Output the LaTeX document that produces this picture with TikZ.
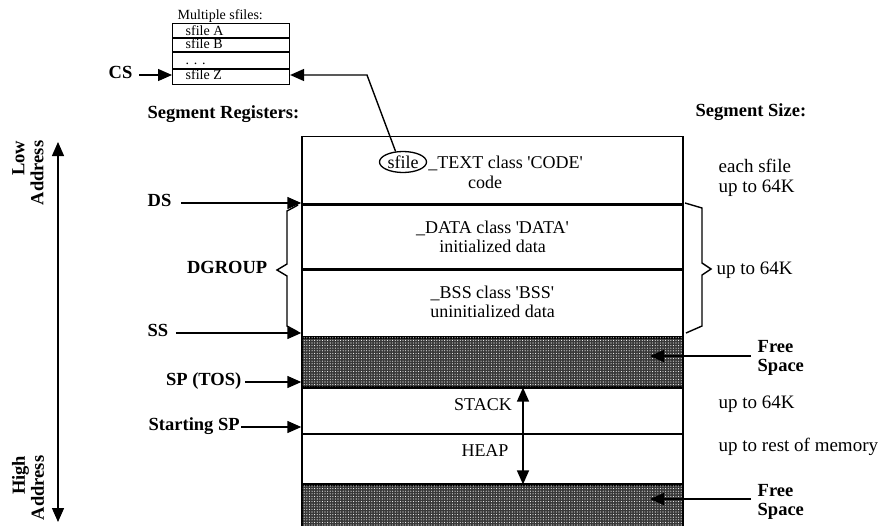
\documentclass[tikz,border=0pt]{standalone}
\usepackage{fontspec}
\setmainfont{Liberation Serif}
\usetikzlibrary{arrows.meta,shapes.geometric,patterns.meta}
\begin{document}
\begin{tikzpicture}[x=1pt,y=-1pt,
  line width=1.4pt,
  arr/.style={-{Triangle[length=14pt,width=12pt]}},
  dblarr/.style={{Triangle[length=14pt,width=12pt]}-{Triangle[length=14pt,width=12pt]}},
  region/.style={draw, minimum width=381pt, inner sep=0pt, anchor=north},
  freeband/.style={region, fill=black!78, postaction={pattern={Dots[distance=2.6pt,radius=0.55pt]}, pattern color=white}},
  lab/.style={font=\fontsize{18.5}{20}\selectfont\bfseries, inner sep=0pt, text height=0.66em, text depth=0pt},
  lab2/.style={font=\fontsize{18.5}{19}\selectfont\bfseries, inner sep=0pt},
  boxtext/.style={font=\fontsize{18}{19}\selectfont, inner sep=0pt, align=center},
  sizetext/.style={font=\fontsize{19}{20}\selectfont, inner sep=0pt, align=left, anchor=west},
  rowbox/.style={draw, line width=1.1pt, minimum width=117pt, inner sep=0pt, anchor=north west},
  small/.style={font=\fontsize{14}{15}\selectfont, inner sep=0pt, anchor=base west, text height=0.62em, text depth=0pt},
]
\useasboundingbox (0,0) rectangle (886,525);

% ---- multiple sfiles box ----
\node[small, text depth=0.2em] (mult) at (177,19.5) {Multiple sfiles:};
\node[rowbox, minimum height=14pt] (rA) at (172,23) {};
\node[rowbox, minimum height=13pt] (rB) at (rA.south west) {};
\node[rowbox, minimum height=16pt] (rD) at (rB.south west) {};
\node[rowbox, minimum height=15pt] (rZ) at (rD.south west) {};
\node[small] (tA) at (185,35) {sfile A};
\node[small] (tB) at (185,48.5) {sfile B};
\node[small] (tD) at (185,64) {. . .};
\node[small] (tZ) at (185,79.5) {sfile Z};

\node[lab, anchor=west] (cs) at (108,75) {CS};
\draw[arr] ([xshift=6pt]cs.east) -- (cs.east -| rZ.west);

% ---- headings ----
\node[lab, anchor=west] (segreg) at (147,115) {Segment Registers:};
\node[lab, anchor=west] (segsize) at (695,113) {Segment Size:};

% ---- main memory box ----
\node[region, minimum height=67pt] (code) at (492.5,136) {};
\node[region, minimum height=64pt] (data) at (code.south) {};
\node[region, minimum height=66pt] (bss) at (data.south) {};
\node[freeband, minimum height=49pt] (free1) at (bss.south) {};
\node[region, minimum height=45pt] (stack) at (free1.south) {};
\node[region, minimum height=49pt] (heap) at (stack.south) {};
\node[freeband, minimum height=46pt] (free2) at (heap.south) {};

\node[draw, ellipse, line width=1.3pt, minimum width=47pt, minimum height=21pt, inner sep=0pt,
      font=\fontsize{18}{19}\selectfont] (ell) at (403,162) {sfile};
\node[boxtext, anchor=base west] (textcls) at ([xshift=0.5pt]ell.east |- ell.text)
      {\_TEXT class \textquotesingle CODE\textquotesingle};
\node[boxtext] (codet) at (485,182) {code};
\node[boxtext] (datat) at (data.center) {\_DATA class \textquotesingle DATA\textquotesingle\\initialized data};
\node[boxtext] (bsst) at ([yshift=2pt]bss.center) {\_BSS class \textquotesingle BSS\textquotesingle\\uninitialized data};
\node[boxtext] (stk) at (483,405) {STACK};
\node[boxtext] (hp) at (485,451) {HEAP};

\coordinate (sh) at (523,427);
\draw[arr] (sh) -- (sh |- stack.north);
\draw[arr] (sh) -- (sh |- heap.south);

% connector sfile Z <- sfile
\coordinate (bend) at (367,75);
\draw[arr] (ell.125) -- (bend) -- (bend -| rZ.east);

% ---- segment registers ----
\node[lab, anchor=west] (ds) at (147,203) {DS};
\draw[arr] ([xshift=9pt]ds.east) -- (ds.east -| data.west);
\node[lab, anchor=west] (ss) at (147,333) {SS};
\draw[arr] ([xshift=7pt]ss.east) -- (ss.east -| bss.west);
\node[lab, anchor=east] (sp) at (242,382) {SP (TOS)};
\draw[arr] ([xshift=3pt]sp.east) -- (sp.east -| stack.west);
\node[lab, anchor=west] (ssp) at (148,427) {Starting SP};
\draw[arr] ([xshift=1pt]ssp.east) -- (ssp.east -| heap.west);

\node[lab, anchor=east] (dg) at (268,270) {DGROUP};
\draw (298,205) -- (287,211) -- (287,264) -- (277,270) -- (287,276) -- (287,326) -- (298,332);

% ---- right side ----
\draw (685,203) -- (702,208) -- (702,263) -- (711,269) -- (702,275) -- (702,326) -- (686,333);
\node[sizetext] (sz1) at (718,178) {each sfile\\up to 64K};
\node[sizetext] (sz2) at (716,270) {up to 64K};
\node[sizetext] (sz3) at (718,404) {up to 64K};
\node[sizetext] (sz4) at (718,447) {up to rest of memory};

\node[lab2, anchor=west, align=left] (fs1) at (757,358) {Free\\Space};
\node[lab2, anchor=west, align=left] (fs2) at (757,502) {Free\\Space};
\coordinate (t1) at (650,356);
\coordinate (t2) at (650,499);
\draw[arr] ([xshift=-6pt]fs1.west |- t1) -- (t1);
\draw[arr] ([xshift=-6pt]fs2.west |- t2) -- (t2);

% ---- address axis ----
\node[lab2, rotate=90, align=right] (low) at (28,173) {Low\\Address};
\node[lab2, rotate=90, align=right] (high) at (28,488) {High\\Address};
\coordinate (atop) at (58,142);
\coordinate (abot) at (58,522);
\draw[dblarr] (atop) -- (abot);
\end{tikzpicture}
\end{document}
